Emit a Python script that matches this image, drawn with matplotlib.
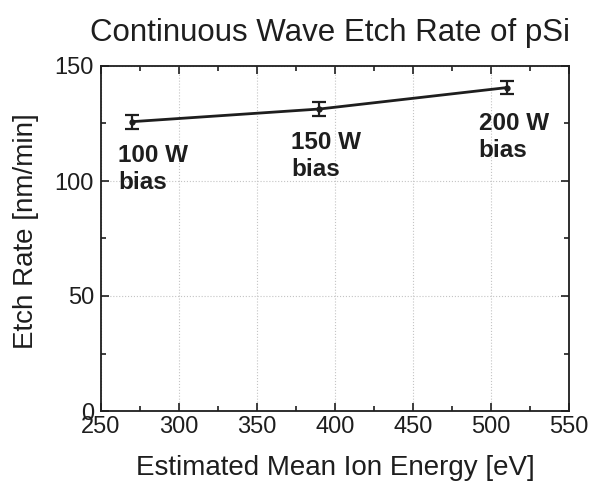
import matplotlib
matplotlib.use("Agg")
import matplotlib.pyplot as plt
from matplotlib.ticker import MultipleLocator

plt.rcParams['font.family'] = ['Liberation Sans', 'DejaVu Sans']

ion_energy = [270, 390, 510]
etch_rate = [125.8, 131.3, 140.6]
etch_err = [3.1, 3.0, 2.9]
labels = ["100 W\nbias", "150 W\nbias", "200 W\nbias"]
label_x = [261, 372, 492]
label_y = [116.2, 121.8, 130.0]

ink = '#1e1e1e'
fig = plt.figure(figsize=(5.9, 4.87), dpi=100)
ax = fig.add_axes([101/590, 1-411/487, 468/590, 345/487])

ax.errorbar(ion_energy, etch_rate, yerr=etch_err, color=ink, lw=2.0,
            marker='o', ms=3.5, capsize=5.3, capthick=1.6, elinewidth=1.6)
for x, y, t in zip(label_x, label_y, labels):
    ax.text(x, y, t, fontsize=17.5, fontweight='bold', va='top', ha='left', color=ink,
            linespacing=1.22)

ax.set_xlim(250, 550)
ax.set_ylim(0, 150)
ax.xaxis.set_major_locator(MultipleLocator(50))
ax.xaxis.set_minor_locator(MultipleLocator(25))
ax.yaxis.set_major_locator(MultipleLocator(50))
ax.yaxis.set_minor_locator(MultipleLocator(25))
ax.tick_params(which='both', direction='in', top=True, right=True, labelsize=17, colors=ink)
ax.tick_params(which='major', length=6, width=1.2)
ax.tick_params(which='minor', length=3.5, width=1.2)
ax.tick_params(axis='x', pad=3.5)
ax.tick_params(axis='y', pad=5)
ax.grid(True, which='major', linestyle=':', color='#c4c4c4', lw=0.8)
for s in ax.spines.values():
    s.set_linewidth(1.3)
    s.set_color(ink)

ax.set_xlabel('Estimated Mean Ion Energy [eV]', fontsize=20, color=ink, labelpad=12)
ax.set_ylabel('Etch Rate [nm/min]', fontsize=20, color=ink, labelpad=11)
ax.yaxis.label.set_y(0.52)
ax.set_title('Continuous Wave Etch Rate of pSi', fontsize=22.5, color=ink, pad=18)
ax.title.set_x(0.49)

fig.savefig('out.png', dpi=100)
